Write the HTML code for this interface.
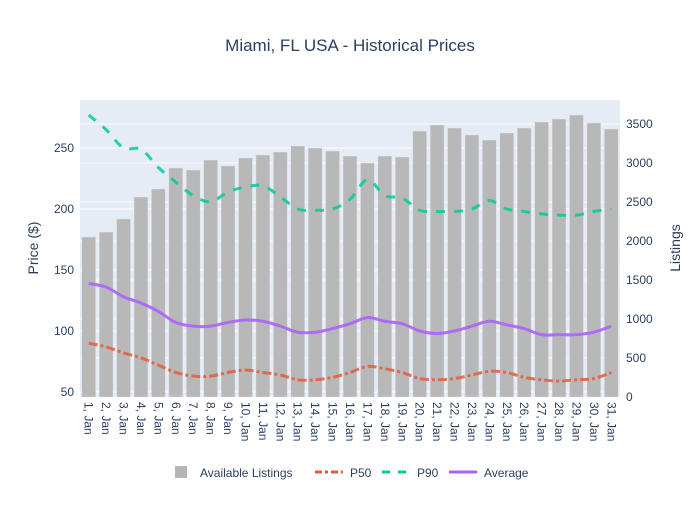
<!DOCTYPE html>
<html><head><meta charset="utf-8"><style>
body{margin:0;background:#fff;font-family:"Liberation Sans",Arial,sans-serif}
svg text{font-family:"Liberation Sans",Arial,sans-serif;fill:#2a3f5f}
</style></head><body>
<svg id="c" width="700" height="500" xmlns="http://www.w3.org/2000/svg">
<rect x="80" y="100" width="540" height="297" fill="#e5ecf6"/>
<g id="grid"></g><g id="bars"></g><g id="lines"></g><g id="axes"></g>
<text x="350" y="51" text-anchor="middle" font-size="17">Miami, FL USA - Historical Prices</text>
<text transform="translate(38,248) rotate(-90)" text-anchor="middle" font-size="14">Price ($)</text>
<text transform="translate(680,248) rotate(-90)" text-anchor="middle" font-size="14">Listings</text>
<g>
<g><rect x="175" y="466" width="12" height="12" fill="#b6b6b6"/><text x="200" y="477" font-size="12">Available Listings</text></g>
<g><line x1="315" y1="472" x2="343" y2="472" stroke="#e45c3a" stroke-width="3" stroke-dasharray="7,3,3,3"/><text x="350" y="477" font-size="12">P50</text></g>
<g><line x1="382" y1="472" x2="410" y2="472" stroke="#00cc96" stroke-width="3" stroke-dasharray="8,8"/><text x="417" y="477" font-size="12">P90</text></g>
<g><line x1="449" y1="472" x2="477" y2="472" stroke="#ab63fa" stroke-width="3"/><text x="484" y="477" font-size="12">Average</text></g>
</g>
</svg>
<script>
const categories=[];for(let i=1;i<=31;i++)categories.push(i+', Jan');
const listings=[2051,2115,2282,2564,2667,2936,2910,3038,2962,3064,3103,3141,3218,3192,3154,3090,3000,3090,3077,3410,3487,3449,3359,3295,3385,3449,3526,3564,3615,3513,3436];
const p90=[277,265,250,249,234,222,211,206,214,218,219,210,200,199,200,208,224,211,209,199,198,198,200,207,200,198,196,195,195,198,200];
const avg=[139,136,128,123,116,107,104,104,107,109,108,104,99,99,102,106,111,108,106,100,98,100,104,108,105,102,97,97,97,99,104];
const p50=[90,87,82,78,72,66,63,63,66,68,66,64,60,60,62,66,71,69,66,61,60,61,64,67,66,62,60,59,60,61,66];
const leftTicks=[50,100,150,200,250];
const rightTicks=[0,500,1000,1500,2000,2500,3000,3500];
const NS='http://www.w3.org/2000/svg';
const X0=80,X1=620,band=(X1-X0)/categories.length;
const xc=i=>X0+band*(i+0.5);
const yL=v=>392-(v-50)*1.22;
const yR=v=>397-v*39/500;
function mk(t,a,p){const e=document.createElementNS(NS,t);for(const k in a)e.setAttribute(k,a[k]);p.appendChild(e);return e;}
const grid=document.getElementById('grid'),bars=document.getElementById('bars'),lines=document.getElementById('lines'),axes=document.getElementById('axes');
leftTicks.forEach(v=>{const l=mk('line',{x1:X0,x2:X1,y1:yL(v),y2:yL(v),stroke:'#fff','stroke-width':1},grid);


const t=mk('text',{x:74,y:yL(v)+4,'text-anchor':'end','font-size':12},axes);t.textContent=v;

});
rightTicks.forEach(v=>{const l=mk('line',{x1:X0,x2:X1,y1:yR(v),y2:yR(v),stroke:'#fff','stroke-width':1,opacity:0.8},grid);


const t=mk('text',{x:626,y:yR(v)+4,'font-size':12},axes);t.textContent=v;

});
categories.forEach((c,i)=>{const w=band*0.8;const b=mk('rect',{x:xc(i)-w/2,y:yR(listings[i]),width:w,height:397-yR(listings[i]),fill:'#b6b6b6',opacity:0.95,stroke:'#dfe3ea','stroke-width':0.5},bars);


const t=mk('text',{transform:`translate(${xc(i)-4},402) rotate(90)`,'font-size':12},axes);t.textContent=c;

});
function spline(vals){const p=vals.map((v,i)=>[xc(i),yL(v)]);let d='M'+p[0][0]+','+p[0][1];
for(let i=0;i<p.length-1;i++){const a=p[Math.max(0,i-1)],b=p[i],c=p[i+1],e=p[Math.min(p.length-1,i+2)],k=1/6;
d+=` C${b[0]+(c[0]-a[0])*k},${b[1]+(c[1]-a[1])*k} ${c[0]-(e[0]-b[0])*k},${c[1]-(e[1]-b[1])*k} ${c[0]},${c[1]}`;}return d;}
const s1=mk('path',{d:spline(p50),fill:'none',stroke:'#e45c3a','stroke-width':3,'stroke-dasharray':'9,3,3,3',opacity:0.85},lines);


const s2=mk('path',{d:spline(p90),fill:'none',stroke:'#00cc96','stroke-width':3,'stroke-dasharray':'9,9',opacity:0.85},lines);


const s3=mk('path',{d:spline(avg),fill:'none',stroke:'#ab63fa','stroke-width':3,opacity:0.9},lines);


</script>
</body></html>
